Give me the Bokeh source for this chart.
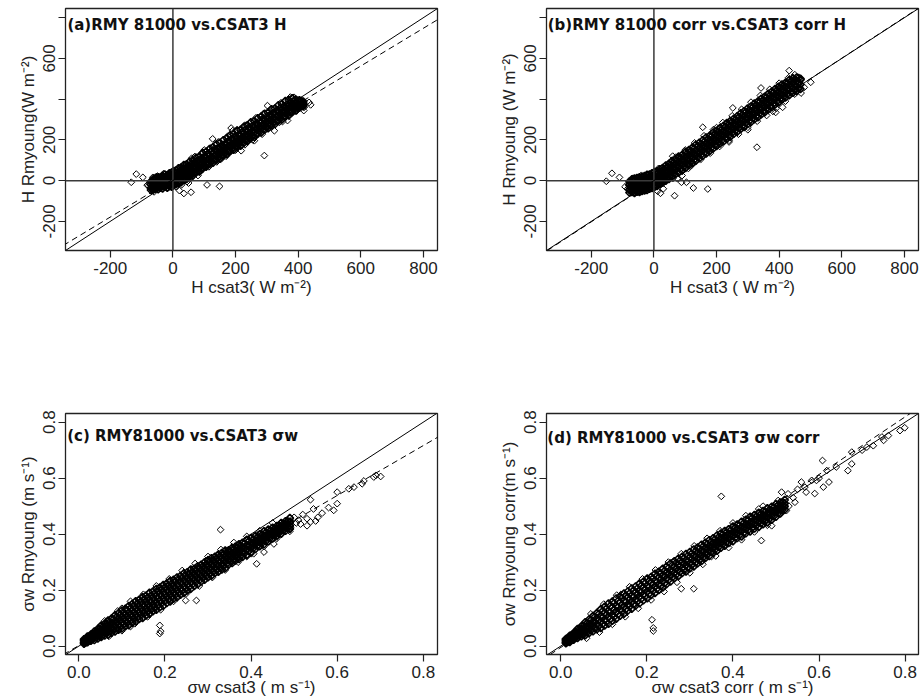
import numpy as np
from bokeh.plotting import figure
from bokeh.models import Range1d, FixedTicker, Slope, Span, Label
from bokeh.layouts import column, row
from bokeh.embed import file_html
from bokeh.resources import INLINE

# ---------------- data ----------------
# Panel (a): H, RMY 81000 vs CSAT3 (W m-2). The dense band is sampled on two interleaved
# x grids (a_x, a_x2) with several rows across the band; edge points and scattered points follow.
a_x = [-70, -62, -55, -47, -40, -33, -26, -18, -11, -4, 3, 10, 18, 26, 35, 44, 54, 64, 74, 84, 95, 106, 117, 128, 139,
       150, 161, 172, 183, 194, 205, 216, 227, 238, 249, 260, 271, 282, 293, 304, 315, 326, 337, 348, 359, 370, 381, 392, 404, 416]
a_y_hi = [-4, 8, 14, 16, 15, 24, 30, 26, 36, 40, 47, 50, 60, 64, 76, 80, 94, 100, 112, 118, 134, 142, 155, 164, 178,
          186, 198, 208, 222, 228, 244, 250, 264, 272, 286, 292, 306, 314, 328, 334, 350, 354, 370, 376, 390, 396, 404, 398, 394, 388]
a_y_mh = [-20, -12, -9, -4, 3, 2, 10, 5, 14, 16, 22, 25, 32, 36, 48, 52, 66, 70, 84, 90, 106, 112, 126, 134, 148,
          156, 168, 176, 190, 198, 212, 220, 234, 240, 256, 262, 276, 284, 298, 304, 318, 326, 340, 346, 360, 366, 378, 382, 386, 380]
a_y_ml = [-36, -31, -26, -24, -17, -16, -9, -14, -6, -3, 0, 3, 10, 12, 24, 28, 42, 48, 62, 68, 82, 88, 104, 110, 124,
          132, 146, 152, 168, 174, 188, 194, 210, 216, 230, 238, 252, 258, 274, 280, 294, 302, 316, 322, 336, 342, 356, 360, 372, 374]
a_y_lo = [-46, -43, -40, -42, -35, -38, -30, -35, -27, -30, -22, -18, -12, -8, 4, 8, 22, 26, 40, 46, 60, 68, 82, 88, 102,
          108, 124, 130, 144, 152, 166, 172, 186, 194, 208, 214, 230, 236, 250, 258, 272, 278, 294, 300, 314, 322, 336, 344, 358, 366]
a_x2 = [-66, -58, -51, -43, -36, -29, -22, -14, -7, 0, 6, 14, 22, 30, 40, 49, 59, 69, 79, 90, 100, 112, 122, 134, 144,
        156, 166, 178, 188, 200, 210, 222, 232, 244, 254, 266, 276, 288, 298, 310, 320, 332, 342, 354, 364, 376, 386, 398, 410]
a_y2_u = [-2, 2, 8, 10, 16, 18, 20, 24, 28, 32, 36, 40, 48, 52, 62, 70, 80, 86, 98, 108, 118, 130, 143, 152, 160,
          172, 180, 194, 204, 216, 226, 238, 249, 258, 268, 280, 290, 303, 310, 322, 332, 344, 355, 364, 374, 384, 390, 392, 390]
a_y2_m = [-26, -18, -14, -10, -6, -2, -1, 1, 5, 8, 12, 16, 22, 28, 38, 46, 56, 64, 74, 85, 94, 106, 116, 126, 138,
          148, 158, 170, 180, 192, 202, 212, 222, 234, 244, 256, 264, 276, 286, 298, 308, 318, 328, 340, 350, 360, 368, 374, 378]
a_y2_l = [-40, -38, -34, -32, -28, -24, -26, -20, -18, -14, -12, -6, -2, 4, 14, 22, 32, 40, 50, 60, 70, 82, 92, 104, 112,
          124, 134, 146, 156, 168, 178, 190, 198, 210, 220, 230, 240, 252, 262, 274, 284, 294, 304, 316, 326, 338, 348, 358, 366]
a_edge_x = [70, 95, 120, 145, 175, 205, 230, 265, 290, 320, 345, 375, 60, 85, 115, 140, 170, 200, 230, 255, 285, 315,
            340, 370, 395, -78, -74, -64, -50, -30, 10, 28]
a_edge_y = [118, 140, 160, 190, 218, 250, 272, 308, 330, 352, 382, 410, 20, 40, 68, 92, 120, 150, 176, 200, 228, 262,
            286, 316, 342, -25, -12, 16, 22, 34, -30, -20]
a_out_x = [-133, -117, -96, -82, 21, 35, 58, 109, 149, 45, 56, 50, 292, 435, 419, 387, 440, 186, 127, 218, 154, 324,
           366, 418, 90, 37, 191, 302, 240, 100, 60, -60, 80, 260, 350]
a_out_y = [-8, 32, 16, -22, -49, -63, -57, -21, -28, -5, 10, -12, 123, 384, 360, 409, 372, 258, 205, 147, 106, 245,
           295, 344, 49, 0, 245, 368, 200, 150, 110, -55, 25, 196, 290]
a_fit = (6.5, 0.927)      # intercept, slope of the dashed regression line

# Panel (b): corrected H
b_x = [-78, -70, -62, -54, -46, -38, -30, -22, -14, -6, 2, 10, 19, 28, 38, 48, 58, 68, 79, 90, 101, 112, 123, 134, 145,
       156, 167, 178, 189, 200, 211, 222, 233, 244, 255, 266, 277, 288, 299, 310, 321, 332, 343, 354, 365, 376, 387, 398,
       409, 420, 432, 444, 456, 468]
b_y_hi = [-5, 6, 10, 12, 16, 18, 22, 28, 30, 36, 42, 46, 56, 62, 74, 82, 96, 104, 118, 126, 140, 150, 162, 176, 186,
          198, 212, 220, 236, 244, 258, 268, 282, 292, 304, 316, 330, 340, 354, 364, 378, 388, 402, 412, 426, 436, 450, 460,
          472, 480, 494, 502, 506, 500]
b_y_mh = [-22, -18, -14, -16, -10, -8, -4, 0, 2, 8, 14, 20, 28, 38, 48, 58, 70, 80, 92, 102, 114, 126, 138, 150, 160,
          174, 184, 198, 208, 222, 232, 244, 256, 268, 280, 292, 304, 316, 328, 340, 352, 364, 376, 388, 400, 412, 424, 436,
          448, 458, 470, 480, 488, 496]
b_y_ml = [-44, -40, -42, -38, -36, -34, -30, -26, -22, -18, -10, -4, 4, 12, 22, 34, 44, 54, 66, 76, 88, 100, 112, 124, 134,
          148, 158, 172, 182, 196, 206, 218, 230, 242, 254, 266, 278, 290, 302, 314, 326, 338, 350, 362, 374, 386, 398, 410,
          422, 432, 446, 456, 462, 472]
b_y_lo = [-58, -56, -60, -54, -55, -50, -48, -46, -40, -36, -30, -26, -18, -10, 0, 8, 20, 30, 40, 52, 62, 76, 86, 98, 110,
          122, 134, 146, 158, 170, 182, 192, 206, 216, 230, 240, 254, 264, 278, 288, 302, 312, 326, 336, 350, 360, 374, 384,
          398, 408, 420, 432, 440, 450]
b_x2 = [-74, -66, -58, -50, -42, -34, -26, -18, -10, -2, 6, 14, 24, 33, 43, 53, 63, 74, 85, 96, 107, 118, 129, 140, 151,
        162, 173, 184, 195, 206, 217, 228, 239, 250, 261, 272, 283, 294, 305, 316, 327, 338, 349, 360, 371, 382, 393, 404,
        415, 426, 438, 450, 462]
b_y2_u = [-6, -2, 2, 2, 6, 8, 12, 14, 20, 24, 30, 38, 46, 56, 66, 76, 88, 98, 110, 120, 134, 144, 158, 168, 180,
          192, 204, 216, 228, 240, 250, 264, 274, 288, 298, 312, 322, 336, 346, 360, 370, 384, 394, 408, 418, 432, 442, 456,
          466, 476, 488, 496, 504]
b_y2_m = [-32, -28, -28, -24, -22, -20, -14, -12, -6, 0, 4, 12, 22, 30, 40, 50, 62, 74, 84, 96, 106, 120, 130, 142, 154,
          166, 178, 190, 202, 214, 226, 236, 250, 260, 274, 284, 298, 308, 322, 332, 346, 356, 370, 380, 394, 404, 418, 428,
          440, 450, 464, 470, 480]
b_y2_l = [-50, -52, -48, -50, -46, -44, -42, -36, -32, -26, -20, -14, -6, 4, 14, 26, 36, 46, 58, 70, 80, 94, 104, 116, 128,
          140, 152, 164, 176, 188, 198, 212, 222, 236, 246, 260, 270, 284, 294, 308, 318, 332, 342, 356, 366, 380, 390, 404,
          414, 426, 436, 446, 454]
b_edge_x = [70, 100, 130, 160, 190, 220, 250, 280, 310, 340, 370, 400, 430, 60, 90, 120, 150, 180, 210, 240, 270, 300,
            330, 360, 390, 420, 450, -84, -80, -68, -40, -20, 12]
b_edge_y = [115, 150, 185, 220, 250, 285, 318, 350, 385, 418, 448, 478, 505, 10, 45, 75, 105, 135, 168, 198, 228, 262,
            292, 320, 355, 390, 425, -40, -20, 10, 26, 30, -52]
b_out_x = [-152, -134, -110, -92, 21, 66, 90, 88, 104, 126, 172, 329, 156, 252, 342, 501, 480, 432, 411, 389, 110, 200,
           300, 60, 40, 240, 380, 450, 470, 30, 75, 15]
b_out_y = [-3, 36, 16, -30, -62, -74, 25, -8, -8, -36, -41, 164, 262, 357, 455, 483, 458, 540, 360, 335, 60, 260,
           250, 120, 5, 190, 340, 520, 430, -40, 10, 60]
b_fit = (-1.5, 1.004)

# Panel (c): sigma_w (m s-1)
c_x = [0.012, 0.020, 0.028, 0.036, 0.044, 0.052, 0.060, 0.068, 0.076, 0.084, 0.092, 0.100, 0.108, 0.116, 0.124, 0.132,
       0.140, 0.148, 0.156, 0.164, 0.172, 0.180, 0.188, 0.196, 0.204, 0.212, 0.220, 0.228, 0.236, 0.244, 0.252, 0.260,
       0.268, 0.276, 0.284, 0.292, 0.300, 0.308, 0.316, 0.324, 0.332, 0.340, 0.348, 0.356, 0.364, 0.372, 0.380, 0.390,
       0.400, 0.410, 0.420, 0.430, 0.440, 0.450, 0.460, 0.470, 0.480, 0.490]
c_y_hi = [0.024, 0.034, 0.041, 0.052, 0.061, 0.073, 0.080, 0.091, 0.098, 0.110, 0.117, 0.127, 0.133, 0.143, 0.150, 0.160,
          0.165, 0.175, 0.180, 0.190, 0.195, 0.204, 0.209, 0.218, 0.223, 0.232, 0.237, 0.245, 0.250, 0.260, 0.264, 0.273,
          0.276, 0.285, 0.290, 0.299, 0.305, 0.314, 0.319, 0.327, 0.332, 0.341, 0.342, 0.351, 0.356, 0.364, 0.369, 0.380,
          0.386, 0.393, 0.399, 0.410, 0.416, 0.423, 0.429, 0.440, 0.446, 0.457]
c_y_mh = [0.019, 0.027, 0.035, 0.041, 0.051, 0.058, 0.067, 0.073, 0.082, 0.090, 0.099, 0.105, 0.113, 0.119, 0.128, 0.135,
          0.143, 0.149, 0.158, 0.164, 0.173, 0.178, 0.187, 0.192, 0.201, 0.207, 0.215, 0.221, 0.229, 0.236, 0.243, 0.250,
          0.257, 0.263, 0.272, 0.277, 0.287, 0.292, 0.301, 0.305, 0.314, 0.319, 0.326, 0.332, 0.340, 0.345, 0.353, 0.361,
          0.370, 0.377, 0.386, 0.394, 0.402, 0.410, 0.419, 0.427, 0.436, 0.444]
c_y_ml = [0.013, 0.019, 0.026, 0.033, 0.039, 0.046, 0.051, 0.059, 0.064, 0.071, 0.077, 0.085, 0.091, 0.099, 0.106, 0.113,
          0.120, 0.127, 0.133, 0.141, 0.148, 0.155, 0.162, 0.170, 0.177, 0.185, 0.191, 0.199, 0.205, 0.214, 0.221, 0.228,
          0.236, 0.243, 0.250, 0.258, 0.265, 0.273, 0.279, 0.287, 0.292, 0.301, 0.308, 0.316, 0.322, 0.329, 0.335, 0.345,
          0.352, 0.363, 0.370, 0.380, 0.387, 0.398, 0.405, 0.414, 0.423, 0.431]
c_y_lo = [0.009, 0.014, 0.019, 0.022, 0.027, 0.033, 0.038, 0.041, 0.048, 0.052, 0.059, 0.063, 0.071, 0.075, 0.084, 0.088,
          0.097, 0.101, 0.110, 0.116, 0.125, 0.130, 0.139, 0.144, 0.154, 0.160, 0.169, 0.175, 0.184, 0.190, 0.199, 0.205,
          0.215, 0.221, 0.231, 0.237, 0.246, 0.252, 0.261, 0.266, 0.274, 0.279, 0.292, 0.297, 0.306, 0.311, 0.319, 0.326,
          0.336, 0.347, 0.357, 0.364, 0.374, 0.385, 0.395, 0.402, 0.412, 0.419]
c_x2 = [0.016, 0.024, 0.032, 0.040, 0.048, 0.056, 0.064, 0.072, 0.080, 0.088, 0.096, 0.104, 0.112, 0.120, 0.128, 0.136,
        0.144, 0.152, 0.160, 0.168, 0.176, 0.184, 0.192, 0.200, 0.208, 0.216, 0.224, 0.232, 0.240, 0.248, 0.256, 0.264,
        0.272, 0.280, 0.288, 0.296, 0.304, 0.312, 0.320, 0.328, 0.336, 0.344, 0.352, 0.360, 0.368, 0.376, 0.385, 0.395,
        0.405, 0.415, 0.425, 0.435, 0.445, 0.455, 0.465, 0.475, 0.485]
c_y2_u = [0.025, 0.034, 0.043, 0.051, 0.061, 0.069, 0.078, 0.086, 0.095, 0.104, 0.112, 0.119, 0.128, 0.135, 0.143, 0.151,
          0.158, 0.166, 0.173, 0.180, 0.188, 0.195, 0.202, 0.209, 0.216, 0.222, 0.230, 0.237, 0.243, 0.251, 0.257, 0.264,
          0.271, 0.278, 0.285, 0.291, 0.300, 0.306, 0.313, 0.320, 0.327, 0.333, 0.338, 0.345, 0.351, 0.358, 0.366, 0.375,
          0.381, 0.389, 0.397, 0.406, 0.413, 0.420, 0.429, 0.437, 0.446]
c_y2_m = [0.020, 0.026, 0.035, 0.042, 0.049, 0.056, 0.062, 0.071, 0.078, 0.085, 0.092, 0.098, 0.107, 0.114, 0.121, 0.128,
          0.134, 0.143, 0.150, 0.157, 0.164, 0.170, 0.179, 0.186, 0.193, 0.200, 0.206, 0.215, 0.222, 0.229, 0.236, 0.242,
          0.251, 0.258, 0.265, 0.272, 0.279, 0.287, 0.293, 0.301, 0.307, 0.315, 0.321, 0.328, 0.334, 0.342, 0.349, 0.358,
          0.366, 0.375, 0.383, 0.392, 0.400, 0.409, 0.417, 0.426, 0.434]
c_y2_l = [0.013, 0.020, 0.026, 0.031, 0.037, 0.042, 0.047, 0.053, 0.059, 0.065, 0.070, 0.078, 0.084, 0.091, 0.098, 0.103,
          0.112, 0.118, 0.125, 0.132, 0.139, 0.147, 0.154, 0.162, 0.168, 0.176, 0.184, 0.191, 0.199, 0.206, 0.213, 0.222,
          0.229, 0.236, 0.244, 0.251, 0.259, 0.266, 0.273, 0.280, 0.287, 0.295, 0.303, 0.309, 0.317, 0.323, 0.332, 0.340,
          0.350, 0.359, 0.368, 0.376, 0.387, 0.396, 0.405, 0.413, 0.422]
c_edge_x = [0.06, 0.09, 0.12, 0.15, 0.18, 0.21, 0.24, 0.27, 0.3, 0.33, 0.36, 0.39, 0.42, 0.45, 0.07, 0.1, 0.13, 0.16,
            0.19, 0.22, 0.25, 0.28, 0.31, 0.34, 0.37, 0.4, 0.43, 0.46]
c_edge_y = [0.09, 0.125, 0.16, 0.185, 0.215, 0.24, 0.27, 0.295, 0.32, 0.345, 0.37, 0.392, 0.412, 0.44, 0.035, 0.055,
            0.08, 0.105, 0.13, 0.16, 0.188, 0.215, 0.245, 0.272, 0.3, 0.33, 0.356, 0.385]
c_out_x = [0.329, 0.248, 0.273, 0.188, 0.188, 0.19, 0.413, 0.538, 0.55, 0.538, 0.592, 0.6, 0.6, 0.627, 0.639, 0.658,
           0.662, 0.685, 0.701, 0.69, 0.545, 0.406, 0.43, 0.453, 0.492, 0.515, 0.5, 0.52, 0.53, 0.51, 0.555, 0.565,
           0.58, 0.49, 0.47, 0.36, 0.12, 0.1, 0.22, 0.3, 0.39, 0.46, 0.53, 0.505]
c_out_y = [0.416, 0.163, 0.163, 0.074, 0.045, 0.053, 0.294, 0.444, 0.447, 0.523, 0.485, 0.509, 0.55, 0.562, 0.568, 0.58,
           0.59, 0.604, 0.606, 0.61, 0.49, 0.33, 0.336, 0.365, 0.425, 0.436, 0.46, 0.47, 0.455, 0.45, 0.46, 0.475,
           0.495, 0.41, 0.44, 0.3, 0.07, 0.135, 0.17, 0.31, 0.32, 0.39, 0.43, 0.44]
c_fit = (0.002, 0.893)

# Panel (d): corrected sigma_w
d_x = [0.012, 0.021, 0.030, 0.039, 0.048, 0.057, 0.066, 0.075, 0.084, 0.093, 0.102, 0.111, 0.120, 0.129, 0.138, 0.147,
       0.156, 0.165, 0.174, 0.183, 0.192, 0.201, 0.210, 0.219, 0.228, 0.237, 0.246, 0.255, 0.264, 0.273, 0.282, 0.291,
       0.300, 0.309, 0.318, 0.327, 0.336, 0.345, 0.354, 0.363, 0.372, 0.381, 0.390, 0.400, 0.410, 0.420, 0.430, 0.440,
       0.450, 0.460, 0.470, 0.480, 0.490, 0.500, 0.510, 0.520]
d_y_hi = [0.025, 0.037, 0.047, 0.061, 0.071, 0.085, 0.095, 0.107, 0.118, 0.131, 0.140, 0.152, 0.159, 0.170, 0.177, 0.188,
          0.195, 0.206, 0.213, 0.223, 0.230, 0.241, 0.247, 0.258, 0.265, 0.276, 0.284, 0.295, 0.303, 0.312, 0.319, 0.329,
          0.336, 0.345, 0.352, 0.362, 0.369, 0.378, 0.385, 0.395, 0.402, 0.411, 0.417, 0.427, 0.434, 0.444, 0.451, 0.462,
          0.468, 0.476, 0.482, 0.492, 0.498, 0.507, 0.513, 0.522]
d_y_mh = [0.020, 0.029, 0.040, 0.048, 0.060, 0.068, 0.080, 0.088, 0.100, 0.108, 0.119, 0.126, 0.138, 0.144, 0.156, 0.162,
          0.174, 0.180, 0.192, 0.198, 0.209, 0.216, 0.227, 0.234, 0.245, 0.252, 0.264, 0.272, 0.284, 0.290, 0.301, 0.307,
          0.318, 0.324, 0.335, 0.341, 0.352, 0.358, 0.369, 0.376, 0.386, 0.392, 0.402, 0.408, 0.419, 0.425, 0.436, 0.442,
          0.453, 0.458, 0.468, 0.474, 0.484, 0.490, 0.501, 0.510]
d_y_ml = [0.014, 0.023, 0.030, 0.039, 0.046, 0.055, 0.062, 0.071, 0.078, 0.088, 0.095, 0.105, 0.113, 0.123, 0.131, 0.141,
          0.149, 0.159, 0.167, 0.177, 0.185, 0.195, 0.203, 0.213, 0.221, 0.232, 0.242, 0.252, 0.262, 0.272, 0.279, 0.289,
          0.296, 0.306, 0.313, 0.324, 0.331, 0.342, 0.349, 0.360, 0.368, 0.378, 0.384, 0.394, 0.401, 0.411, 0.418, 0.429,
          0.435, 0.444, 0.451, 0.460, 0.466, 0.478, 0.487, 0.499]
d_y_lo = [0.010, 0.015, 0.023, 0.029, 0.035, 0.039, 0.047, 0.053, 0.060, 0.065, 0.074, 0.080, 0.091, 0.098, 0.109, 0.116,
          0.127, 0.134, 0.145, 0.153, 0.164, 0.171, 0.183, 0.190, 0.201, 0.210, 0.222, 0.231, 0.243, 0.250, 0.261, 0.267,
          0.278, 0.285, 0.296, 0.304, 0.315, 0.322, 0.333, 0.341, 0.352, 0.359, 0.369, 0.375, 0.386, 0.392, 0.403, 0.410,
          0.420, 0.426, 0.436, 0.442, 0.452, 0.462, 0.474, 0.487]
d_x2 = [0.016, 0.025, 0.034, 0.043, 0.052, 0.061, 0.070, 0.079, 0.088, 0.097, 0.106, 0.115, 0.124, 0.133, 0.142, 0.151,
        0.160, 0.169, 0.178, 0.187, 0.196, 0.205, 0.214, 0.223, 0.232, 0.241, 0.250, 0.259, 0.268, 0.277, 0.286, 0.295,
        0.304, 0.313, 0.322, 0.331, 0.340, 0.349, 0.358, 0.367, 0.376, 0.385, 0.395, 0.405, 0.415, 0.425, 0.435, 0.445,
        0.455, 0.465, 0.475, 0.485, 0.495, 0.505, 0.515]
d_y2_u = [0.027, 0.038, 0.049, 0.060, 0.071, 0.081, 0.093, 0.104, 0.114, 0.124, 0.134, 0.143, 0.153, 0.161, 0.171, 0.180,
          0.188, 0.198, 0.206, 0.215, 0.224, 0.232, 0.241, 0.250, 0.259, 0.268, 0.278, 0.288, 0.297, 0.305, 0.313, 0.322,
          0.330, 0.338, 0.347, 0.356, 0.364, 0.372, 0.381, 0.389, 0.398, 0.406, 0.414, 0.422, 0.431, 0.439, 0.448, 0.457,
          0.464, 0.471, 0.479, 0.487, 0.495, 0.503, 0.513]
d_y2_m = [0.021, 0.031, 0.040, 0.048, 0.058, 0.067, 0.075, 0.085, 0.093, 0.103, 0.112, 0.120, 0.130, 0.139, 0.147, 0.157,
          0.166, 0.175, 0.184, 0.193, 0.202, 0.211, 0.220, 0.229, 0.238, 0.248, 0.258, 0.268, 0.277, 0.286, 0.294, 0.303,
          0.311, 0.320, 0.328, 0.338, 0.346, 0.355, 0.364, 0.372, 0.382, 0.390, 0.398, 0.406, 0.414, 0.423, 0.432, 0.440,
          0.449, 0.456, 0.464, 0.472, 0.481, 0.490, 0.501]
d_y2_l = [0.015, 0.022, 0.030, 0.037, 0.043, 0.050, 0.057, 0.064, 0.072, 0.079, 0.088, 0.097, 0.105, 0.114, 0.124, 0.132,
          0.142, 0.150, 0.160, 0.169, 0.178, 0.187, 0.197, 0.205, 0.215, 0.225, 0.236, 0.246, 0.256, 0.265, 0.273, 0.282,
          0.290, 0.299, 0.308, 0.318, 0.327, 0.336, 0.345, 0.355, 0.364, 0.372, 0.380, 0.388, 0.397, 0.405, 0.414, 0.423,
          0.432, 0.439, 0.447, 0.455, 0.465, 0.475, 0.487]
d_edge_x = [0.07, 0.1, 0.13, 0.16, 0.19, 0.22, 0.25, 0.28, 0.31, 0.34, 0.37, 0.4, 0.43, 0.46, 0.06, 0.09, 0.12, 0.15,
            0.18, 0.21, 0.24, 0.27, 0.3, 0.33, 0.36, 0.39, 0.42, 0.45, 0.48]
d_edge_y = [0.115, 0.15, 0.182, 0.212, 0.24, 0.272, 0.3, 0.33, 0.358, 0.385, 0.412, 0.44, 0.466, 0.49, 0.028, 0.05,
            0.078, 0.105, 0.135, 0.165, 0.195, 0.228, 0.262, 0.292, 0.322, 0.352, 0.38, 0.408, 0.432]
d_out_x = [0.373, 0.28, 0.309, 0.212, 0.215, 0.215, 0.466, 0.49, 0.608, 0.618, 0.623, 0.61, 0.59, 0.667, 0.676, 0.676,
           0.711, 0.726, 0.746, 0.75, 0.761, 0.788, 0.799, 0.559, 0.567, 0.583, 0.528, 0.505, 0.497, 0.524, 0.544,
           0.513, 0.594, 0.54, 0.55, 0.57, 0.6, 0.53, 0.47, 0.45, 0.14, 0.26, 0.35, 0.64, 0.7]
d_out_y = [0.535, 0.205, 0.205, 0.094, 0.065, 0.054, 0.377, 0.43, 0.663, 0.627, 0.586, 0.568, 0.545, 0.627, 0.651, 0.693,
           0.711, 0.716, 0.747, 0.735, 0.752, 0.77, 0.78, 0.586, 0.568, 0.592, 0.544, 0.52, 0.466, 0.484, 0.514,
           0.55, 0.592, 0.53, 0.56, 0.55, 0.6, 0.5, 0.5, 0.47, 0.185, 0.3, 0.32, 0.64, 0.7]
d_fit = (-0.005, 1.03)

# axis ticks and labels
h_ticks = [-200, 0, 200, 400, 600, 800]
h_ytick_hidden = [400, 800]
s_ticks = [0.0, 0.2, 0.4, 0.6, 0.8]
h_range = (-343, 845)
s_xrange_c = (-0.031, 0.833)
s_xrange_d = (-0.033, 0.831)
s_yrange = (-0.030, 0.831)

titles = ["(a)RMY 81000 vs.CSAT3 H", "(b)RMY 81000 corr vs.CSAT3 corr H",
          "(c) RMY81000 vs.CSAT3 \u03c3w", "(d) RMY81000 vs.CSAT3 \u03c3w corr"]
xlabels = ["H csat3( W m\u207b\u00b2)", "H csat3 ( W m\u207b\u00b2)",
           "\u03c3w csat3 ( m s\u207b\u00b9)", "\u03c3w csat3 corr ( m s\u207b\u00b9)"]
ylabels = ["H Rmyoung(W m\u207b\u00b2)", "H Rmyoung (W m\u207b\u00b2)",
           "\u03c3w Rmyoung (m s\u207b\u00b9)", "\u03c3w Rmyoung corr(m s\u207b\u00b9)"]

FONT = "Liberation Sans"
INK = "#222222"


def make_panel(width, height, borders, xr, yr, xticks, yticks, yhidden, grids, ex, ey, ox, oy, fit,
               title, title_xy, xlabel, ylabel, zero_lines, xstand):
    left, right, top, bottom = borders
    p = figure(width=width, height=height, output_backend="svg", toolbar_location=None,
               x_range=Range1d(*xr), y_range=Range1d(*yr),
               min_border_left=left, min_border_right=right, min_border_top=top, min_border_bottom=bottom)
    p.grid.visible = False
    p.outline_line_color = INK
    p.outline_line_width = 1.3
    p.background_fill_color = "white"
    p.border_fill_color = "white"

    for ax in (p.xaxis[0], p.yaxis[0]):
        ax.axis_line_color = None
        ax.major_tick_in = 0
        ax.major_tick_out = 7
        ax.major_tick_line_color = INK
        ax.major_tick_line_width = 1.2
        ax.minor_tick_line_color = None
        ax.major_label_text_font = FONT
        ax.major_label_text_font_size = "17px"
        ax.major_label_text_color = INK
        ax.axis_label_text_font = FONT
        ax.axis_label_text_font_size = "17px"
        ax.axis_label_text_font_style = "normal"
        ax.axis_label_text_color = INK
    p.xaxis[0].ticker = FixedTicker(ticks=xticks)
    p.yaxis[0].ticker = FixedTicker(ticks=yticks)
    p.xaxis[0].major_label_standoff = xstand[0]
    p.xaxis[0].axis_label_standoff = xstand[1]
    p.yaxis[0].major_label_standoff = 3
    p.yaxis[0].axis_label_standoff = 3
    p.yaxis[0].major_label_orientation = "vertical"
    if all(float(t).is_integer() for t in xticks):
        p.xaxis[0].major_label_overrides = {t: str(int(t)) for t in xticks}
        p.yaxis[0].major_label_overrides = {t: ("" if t in yhidden else str(int(t))) for t in yticks}
    else:
        p.xaxis[0].major_label_overrides = {t: f"{t:.1f}" for t in xticks}
        p.yaxis[0].major_label_overrides = {t: f"{t:.1f}" for t in yticks}
    p.xaxis[0].axis_label = xlabel
    p.yaxis[0].axis_label = ylabel

    if zero_lines:
        p.add_layout(Span(location=0, dimension="width", line_color="#3a3a3a", line_width=1.5))
        p.add_layout(Span(location=0, dimension="height", line_color="#3a3a3a", line_width=1.5))

    # dense core of the band
    xs_all, ys_all = [], []
    for gx, rows in grids:
        for r in rows:
            xs_all.append(np.asarray(gx, dtype=float))
            ys_all.append(np.asarray(r, dtype=float))
    p.scatter(np.concatenate(xs_all), np.concatenate(ys_all), marker="square", angle=np.pi / 4, size=5.3,
              fill_color=None, line_color="black", line_width=1.6)
    # band edge points and scattered points
    p.scatter(np.concatenate([np.asarray(ex, float), np.asarray(ox, float)]),
              np.concatenate([np.asarray(ey, float), np.asarray(oy, float)]),
              marker="square", angle=np.pi / 4, size=4.8, fill_color=None, line_color="black", line_width=1.0)

    p.add_layout(Slope(gradient=1.0, y_intercept=0.0, line_color="black", line_width=1.0))
    p.add_layout(Slope(gradient=fit[1], y_intercept=fit[0], line_color="black", line_width=1.0,
                       line_dash="6 4"))

    p.add_layout(Label(x=title_xy[0], y=title_xy[1], text=title, text_font="DejaVu Sans",
                       text_font_style="bold", text_font_size="15px", text_color="#111111",
                       text_baseline="middle", text_align="left"))
    return p


pa = make_panel(481, 380, (65, 44, 8, 130), h_range, h_range, h_ticks, h_ticks, h_ytick_hidden,
                [(a_x, [a_y_hi, a_y_mh, a_y_ml, a_y_lo]), (a_x2, [a_y2_u, a_y2_m, a_y2_l])],
                a_edge_x, a_edge_y, a_out_x, a_out_y, a_fit, titles[0], (-337, 762), xlabels[0], ylabels[0],
                True, (4, 1))
pb = make_panel(440, 380, (65, 3, 8, 130), h_range, h_range, h_ticks, h_ticks, h_ytick_hidden,
                [(b_x, [b_y_hi, b_y_mh, b_y_ml, b_y_lo]), (b_x2, [b_y2_u, b_y2_m, b_y2_l])],
                b_edge_x, b_edge_y, b_out_x, b_out_y, b_fit, titles[1], (-339, 762), xlabels[1], ylabels[1],
                True, (4, 1))
pc = make_panel(481, 320, (65, 44, 33, 46), s_xrange_c, s_yrange, s_ticks, s_ticks, [],
                [(c_x, [c_y_hi, c_y_mh, c_y_ml, c_y_lo]), (c_x2, [c_y2_u, c_y2_m, c_y2_l])],
                c_edge_x, c_edge_y, c_out_x, c_out_y, c_fit, titles[2], (-0.027, 0.752), xlabels[2], ylabels[2],
                False, (4, -3))
pd_ = make_panel(440, 320, (65, 3, 33, 46), s_xrange_d, s_yrange, s_ticks, s_ticks, [],
                 [(d_x, [d_y_hi, d_y_mh, d_y_ml, d_y_lo]), (d_x2, [d_y2_u, d_y2_m, d_y2_l])],
                 d_edge_x, d_edge_y, d_out_x, d_out_y, d_fit, titles[3], (-0.031, 0.745), xlabels[3], ylabels[3],
                 False, (4, -3))

layout = column(row(pa, pb, spacing=0), row(pc, pd_, spacing=0), spacing=0)
open("out.html", "w").write(file_html(layout, INLINE))
